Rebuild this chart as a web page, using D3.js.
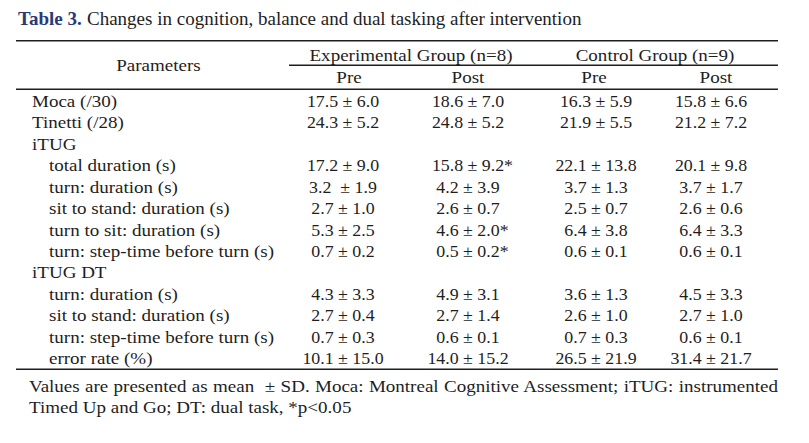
<!DOCTYPE html>
<html><head><meta charset="utf-8">
<script src="https://cdn.jsdelivr.net/npm/d3@7"></script>
<style>body{margin:0;background:#fff}svg{display:block}text{font-family:"Liberation Serif","DejaVu Serif",serif;fill:#1e1e1e;white-space:pre}</style>
</head><body><svg id="c" width="809" height="443"></svg>
<script>
const parameters = ["Moca (/30)","Tinetti (/28)","iTUG","total duration (s)","turn: duration (s)","sit to stand: duration (s)","turn to sit: duration (s)","turn: step-time before turn (s)","iTUG DT","turn: duration (s)","sit to stand: duration (s)","turn: step-time before turn (s)","error rate (%)"];
const indent = [0,0,0,1,1,1,1,1,0,1,1,1,1];
const expPre = ["17.5 ± 6.0","24.3 ± 5.2","","17.2 ± 9.0","3.2  ± 1.9","2.7 ± 1.0","5.3 ± 2.5","0.7 ± 0.2","","4.3 ± 3.3","2.7 ± 0.4","0.7 ± 0.3","10.1 ± 15.0"];
const expPost = ["18.6 ± 7.0","24.8 ± 5.2","","15.8 ± 9.2*","4.2 ± 3.9","2.6 ± 0.7","4.6 ± 2.0*","0.5 ± 0.2*","","4.9 ± 3.1","2.7 ± 1.4","0.6 ± 0.1","14.0 ± 15.2"];
const ctlPre = ["16.3 ± 5.9","21.9 ± 5.5","","22.1 ± 13.8","3.7 ± 1.3","2.5 ± 0.7","6.4 ± 3.8","0.6 ± 0.1","","3.6 ± 1.3","2.6 ± 1.0","0.7 ± 0.3","26.5 ± 21.9"];
const ctlPost = ["15.8 ± 6.6","21.2 ± 7.2","","20.1 ± 9.8","3.7 ± 1.7","2.6 ± 0.6","6.4 ± 3.3","0.6 ± 0.1","","4.5 ± 3.3","2.7 ± 1.0","0.6 ± 0.1","31.4 ± 21.7"];
const groups = ["Experimental Group (n=8)","Control Group (n=9)"];
const subCols = ["Pre","Post","Pre","Post"];
const titleLabel = "Table 3.";
const title = "Changes in cognition, balance and dual tasking after intervention";
const footnote = ["Values are presented as mean  ± SD. Moca: Montreal Cognitive Assessment; iTUG: instrumented","Timed Up and Go; DT: dual task, *p<0.05"];

const svg = d3.select("#c");
const fs = 17, sx = 1.12, sv = 1.05;
const x0 = 16, x1 = 778;
const y = d3.scaleLinear().domain([0, parameters.length - 1]).range([107, 364]);
const colCenters = [343, 468, 596, 711];
const subCenters = [349, 468, 594, 716];
const groupCenters = [411, 655];

function txt(x, yy, s, anchor, scale) {
  return svg.append("text").attr("transform", `translate(${x},${yy}) scale(${scale || sx},1)`)
    .attr("text-anchor", anchor || "start").attr("font-size", fs).text(s);
}

// title
svg.append("text").attr("x", 18).attr("y", 25).attr("font-size", 19).attr("font-weight", "bold").style("fill", "#2b3a74").text(titleLabel);
svg.append("text").attr("x", 87).attr("y", 25).attr("font-size", 19).text(title);

// rules
const line = (xa, xb, yy) => svg.append("line").attr("x1", xa).attr("x2", xb).attr("y1", yy).attr("y2", yy).attr("stroke", "#1e1e1e").attr("stroke-width", 1.4);
line(x0, x1, 40.7);
line(289, x1, 65.3);
line(x0, x1, 89.3);
line(x0, x1, 369.3);

txt(158.5, 71, "Parameters", "middle");
groups.forEach((g, i) => txt(groupCenters[i], 61, g, "middle"));
subCols.forEach((s, i) => txt(subCenters[i], 83, s, "middle"));

parameters.forEach((p, i) => txt(indent[i] ? 49 : 32, y(i), p));

[expPre, expPost, ctlPre, ctlPost].forEach((col, ci) => {
  col.forEach((d, i) => {
    if (!d) return;
    const star = d.endsWith("*");
    const base = star ? d.slice(0, -1) : d;
    const t = txt(0, y(i), base, "start", sv);
    const w = t.node().getComputedTextLength() * sv;
    t.attr("transform", `translate(${colCenters[ci] - w / 2},${y(i)}) scale(${sv},1)`);
    if (star) t.append("tspan").text("*");
  });
});

// footnote, justified first line
footnote.forEach((f, i) => {
  const t = txt(29, 392 + i * 20.5, f, "start");
  if (i === 0) {
    const w = t.node().getComputedTextLength() * sx;
    const spaces = (f.match(/ /g) || []).length;
    const ws = (x1 - 29 - w) / spaces / sx;
    if (ws > 0) t.attr("word-spacing", ws);
  }
});
</script></body></html>
